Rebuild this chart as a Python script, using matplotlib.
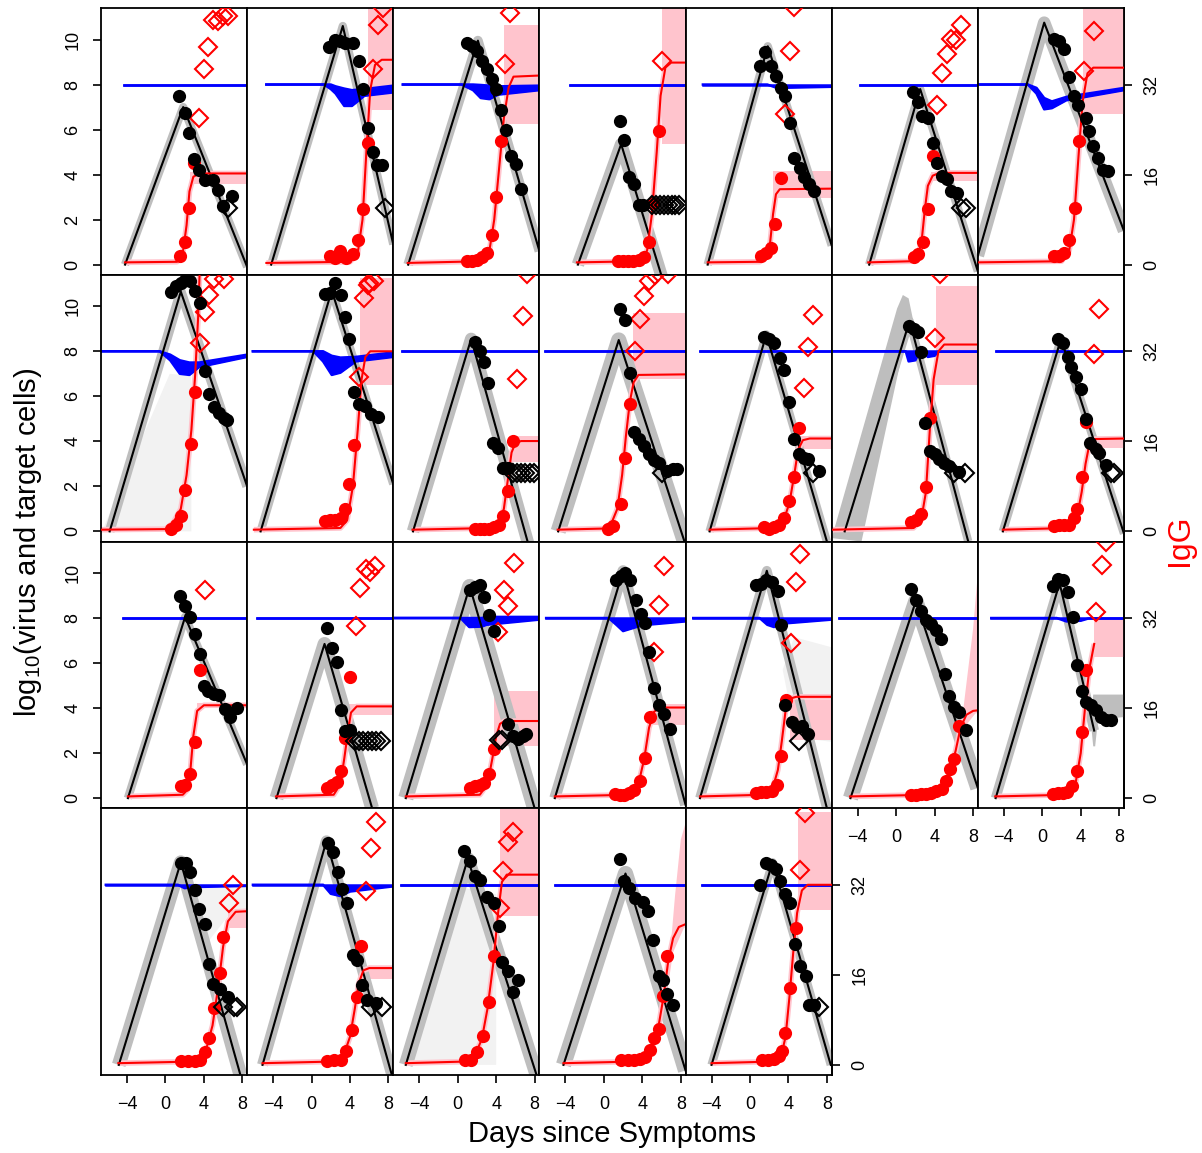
import matplotlib
matplotlib.use("Agg")
import matplotlib.pyplot as plt
import matplotlib.transforms as mtransforms

plt.rcParams['font.family'] = ['Liberation Sans', 'DejaVu Sans']
plt.rcParams['mathtext.default'] = 'regular'

# 26 patients, panels filled row by row (7 per row)

# best-fit viral load curve, (day, log10) vertices
vl_fit = [
    [(-4.2, 0), (1.85, 7.0), (8.5, -0.1)],
    [(-4.2, 0), (3.25, 10.6), (8.5, 0.9)],
    [(-5.15, 0), (2.1, 9.95), (8.5, 0.6)],
    [(-2.7, 0), (1.8, 5.35), (6.0, -0.5)],
    [(-4.4, 0), (1.85, 9.7), (8.5, 0.85)],
    [(-2.8, 0), (2.5, 7.8), (8.5, -0.3)],
    [(-6.7, 0.4), (0.2, 10.75), (8.5, 1.5)],
    [(-5.8, 0), (1.6, 10.65), (8.5, 2.0)],
    [(-5.3, 0), (2.1, 10.7), (8.5, 2.1)],
    [(-4.65, 0), (1.4, 8.55), (7.3, -0.5)],
    [(-4.75, 0), (1.55, 8.5), (8.5, -0.6)],
    [(-4.2, 0), (1.7, 8.75), (8.0, -0.45)],
    [(-5.35, 0), (1.4, 9.35), (7.5, -0.45)],
    [(-4.1, 0), (1.95, 8.55), (8.5, -0.1)],
    [(-3.9, 0), (2.05, 8.05), (8.5, 1.5)],
    [(-3.65, 0), (1.35, 6.85), (6.3, -0.45)],
    [(-5.4, 0), (1.25, 9.4), (8.0, -0.45)],
    [(-5.1, 0), (2.0, 10.1), (8.5, -0.3)],
    [(-5.2, 0), (1.75, 10.1), (8.0, -0.45)],
    [(-4.75, 0), (2.05, 8.75), (8.5, 0.45)],
    [(-4.85, 0), (1.8, 9.55), (5.4, 3.0)],
    [(-4.85, 0), (1.6, 9.0), (7.8, -0.45)],
    [(-5.1, 0), (1.55, 9.95), (8.35, -0.45)],
    [(-5.4, 0), (1.05, 9.15), (8.2, -0.45)],
    [(-4.2, 0), (2.25, 8.5), (8.5, -0.25)],
    [(-4.0, 0), (2.35, 9.0), (8.4, 0)],
]

# measured viral load (filled black circles)
vl_t = [
    [1.41, 2.0, 2.44, 2.96, 3.48, 4.07, 4.93, 5.44, 5.96, 6.93],
    [1.80, 2.39, 2.91, 3.43, 4.28, 4.98, 5.32, 5.84, 6.35, 6.77, 7.32],
    [0.95, 1.51, 1.99, 2.54, 3.02, 3.58, 3.99, 4.51, 5.03, 5.54, 6.06, 6.58],
    [1.63, 2.14, 2.59, 3.18, 3.63, 4.11],
    [1.06, 1.60, 2.19, 2.71, 3.23, 3.67, 4.16, 4.60, 5.19, 5.64, 6.16, 6.67],
    [1.72, 2.31, 2.65, 3.34, 3.79, 4.30, 4.72, 5.27, 5.68, 6.31],
    [1.25, 1.77, 2.29, 2.80, 3.32, 3.74, 4.53, 4.87, 5.32, 5.80, 6.35, 6.84],
    [0.55, 1.07, 1.58, 2.0, 2.51, 3.03, 3.55, 4.07, 4.58, 5.10, 5.62, 6.06, 6.41],
    [1.36, 1.87, 2.46, 3.01, 3.50, 3.94, 4.46, 4.98, 5.56, 6.18, 6.94],
    [1.75, 2.27, 2.71, 3.20, 3.64, 4.16, 4.68, 5.19],
    [1.70, 2.25, 2.73, 3.18, 3.69, 4.21, 4.73, 5.25, 5.76, 6.62, 7.21, 7.66],
    [1.50, 2.02, 2.54, 3.12, 3.57, 4.09, 4.60, 5.12, 5.64, 6.08, 7.19],
    [1.38, 1.90, 2.24, 2.59, 3.03, 3.52, 4.07, 4.48, 5.0, 5.52, 6.55],
    [1.6, 2.11, 2.63, 2.98, 3.5, 4.01, 4.53, 4.95, 5.57, 5.91, 6.60],
    [1.55, 2.07, 2.59, 3.03, 3.55, 4.0, 4.48, 5.03, 5.62, 6.21, 6.76, 7.45],
    [1.64, 2.11, 2.67, 3.08, 3.5, 4.04],
    [1.23, 1.75, 2.27, 2.78, 3.30, 3.75, 5.19, 5.71, 6.23, 6.74, 7.1],
    [1.28, 1.8, 2.25, 2.73, 3.35, 3.87, 4.31, 4.73, 5.25, 5.76, 6.28, 6.87],
    [0.64, 1.16, 1.68, 2.30, 2.88, 3.23, 3.67, 4.37, 4.84, 5.40, 6.08],
    [1.55, 2.07, 2.58, 3.1, 3.62, 4.14, 4.66, 5.1, 5.51, 6.03, 6.55, 7.24],
    [1.08, 1.6, 2.11, 2.63, 3.15, 3.66, 4.12, 4.59, 5.05, 5.57, 6.08, 6.66, 7.12],
    [1.59, 2.18, 2.59, 3.07, 3.48, 4.07, 4.56, 4.96, 5.65, 6.54],
    [1.71, 2.2, 2.7, 3.2, 3.68, 4.28, 4.68, 5.28, 5.76, 6.75],
    [0.63, 1.28, 1.78, 2.27, 3.01, 3.76, 4.25, 4.59, 5.23, 5.73, 6.25],
    [1.65, 2.13, 2.63, 3.22, 4.1, 4.61, 5.11, 5.7, 6.2, 6.59, 7.18],
    [1.07, 1.71, 2.16, 2.66, 3.16, 3.69, 4.19, 4.68, 5.17, 5.81, 6.17, 6.66],
]
vl_v = [
    [7.48, 6.74, 5.85, 4.67, 4.22, 3.78, 3.78, 3.3, 2.59, 3.07],
    [9.67, 9.97, 9.93, 9.85, 9.85, 9.04, 7.8, 6.07, 5.0, 4.44, 4.44],
    [9.85, 9.7, 9.48, 9.04, 8.67, 8.25, 7.78, 6.86, 5.97, 4.81, 4.49, 3.36],
    [6.37, 5.53, 3.9, 3.56, 2.67, 2.67],
    [8.81, 9.44, 8.81, 8.4, 7.85, 7.48, 6.27, 4.74, 4.3, 3.9, 3.56, 3.26],
    [7.66, 7.21, 6.62, 6.52, 5.41, 4.52, 3.92, 3.81, 3.26, 3.19],
    [10.03, 9.93, 9.56, 8.34, 7.48, 7.07, 6.52, 5.93, 5.26, 4.74, 4.22, 4.15],
    [10.64, 10.9, 11.02, 11.17, 11.12, 10.68, 10.13, 7.12, 6.09, 5.54, 5.24, 5.05, 4.95],
    [10.53, 10.58, 11.05, 10.49, 9.54, 8.56, 6.19, 5.64, 5.57, 5.2, 5.1],
    [8.41, 8.01, 7.52, 6.58, 3.94, 3.72, 2.83, 2.83],
    [9.87, 9.39, 7.02, 4.41, 4.09, 3.79, 3.42, 3.17, 3.05, 2.68, 2.76, 2.76],
    [8.65, 8.56, 8.36, 7.72, 7.17, 5.75, 4.12, 3.42, 3.27, 3.2, 2.68],
    [9.12, 9.01, 8.86, 7.97, 4.8, 3.57, 3.42, 3.23, 3.05, 2.9, 2.64],
    [8.53, 8.39, 7.76, 7.32, 6.87, 6.31, 5.01, 3.94, 3.64, 3.47, 2.93],
    [8.96, 8.52, 8.04, 7.3, 6.41, 4.96, 4.76, 4.61, 4.56, 3.97, 3.6, 4.01],
    [7.57, 6.68, 6.04, 3.9, 2.98, 3.04],
    [9.26, 9.38, 9.45, 8.93, 8.12, 7.42, 3.3, 2.74, 2.64, 2.74, 2.83],
    [9.7, 9.85, 10.0, 9.67, 8.81, 8.16, 7.78, 6.49, 4.9, 4.12, 3.72, 3.08],
    [9.45, 9.53, 9.70, 9.6, 9.2, 7.67, 4.12, 3.38, 3.16, 3.19, 2.86],
    [9.3, 8.79, 8.31, 7.93, 7.72, 7.45, 7.08, 5.5, 4.52, 4.04, 3.82, 3.04],
    [9.41, 9.75, 9.7, 9.16, 8.04, 5.9, 4.76, 4.27, 4.12, 3.9, 3.6, 3.48, 3.45],
    [8.95, 8.98, 8.56, 7.79, 6.93, 6.28, 4.5, 3.61, 3.38, 3.02],
    [9.87, 9.45, 8.56, 7.82, 7.17, 4.9, 4.65, 3.57, 2.9, 2.76],
    [9.5, 9.05, 8.41, 8.21, 7.47, 7.2, 6.16, 4.56, 4.16, 3.23, 3.76],
    [9.16, 8.16, 7.87, 7.42, 7.23, 6.83, 5.54, 3.97, 3.76, 3.17, 2.68],
    [8.01, 8.98, 8.9, 8.68, 8.16, 7.57, 7.2, 5.35, 4.39, 3.97, 2.64, 2.64],
]

# viral load below detection (open black diamonds)
vl_lod_t = [
    [6.48], [7.67], [], [5.05, 5.45, 5.85, 6.25, 6.65, 7.05, 7.45, 7.85], [],
    [6.79, 7.24], [], [], [], [5.7, 6.15, 6.6, 7.05, 7.5, 7.95], [6.1], [6.57],
    [6.03, 7.17], [7.12, 7.46], [], [4.5, 4.95, 5.4, 5.85, 6.3, 6.75, 7.2],
    [4.3, 4.6], [], [5.12], [], [], [6.04, 7.14, 7.43], [6.17, 7.34], [], [],
    [7.15],
]
vl_lod_v = [
    [2.52], [2.52], [], [2.64] * 8, [], [2.52, 2.52], [], [], [], [2.58] * 6,
    [2.61], [2.58], [2.58, 2.58], [2.58, 2.58], [], [2.53] * 7, [2.56, 2.56],
    [], [2.53], [], [], [2.58] * 3, [2.58, 2.58], [], [], [2.58],
]

# measured IgG (filled red circles)
igg_t = [
    [1.48, 2.0, 2.44, 2.93],
    [1.87, 2.39, 2.91, 3.60, 4.28, 4.80, 5.32, 5.84],
    [0.95, 1.51, 1.99, 2.54, 3.02, 3.58, 3.99, 4.51],
    [1.45, 1.97, 2.49, 3.0, 3.62, 4.21, 4.66, 5.07, 5.69],
    [1.16, 1.68, 2.19, 2.64, 3.23],
    [1.82, 2.24, 2.75, 3.27, 3.79],
    [1.25, 1.77, 2.29, 2.80, 3.39, 3.84],
    [0.55, 1.07, 1.58, 2.07, 2.62, 3.03],
    [1.36, 1.87, 2.39, 3.01, 3.50, 3.94, 4.46],
    [1.75, 2.27, 2.78, 3.30, 3.82, 4.33, 4.68, 5.19, 5.71],
    [0.4, 0.93, 1.80, 2.25, 2.73],
    [1.50, 2.02, 2.54, 3.05, 3.57, 4.09, 4.60, 5.12],
    [1.55, 2.07, 2.59, 3.12, 3.52],
    [1.25, 1.77, 2.29, 2.80, 3.32, 3.66, 4.12, 4.59],
    [1.58, 2.07, 2.59, 3.03, 3.55],
    [1.64, 2.11, 2.67, 3.08, 3.5, 4.04],
    [1.23, 1.75, 2.27, 2.78, 3.30, 3.75],
    [1.11, 1.63, 2.14, 2.66, 3.18, 3.77, 4.31, 4.80],
    [0.64, 1.16, 1.68, 2.30, 2.78, 3.23, 3.75],
    [1.55, 2.07, 2.58, 3.1, 3.62, 4.14, 4.76, 5.17, 5.59, 6.03, 6.55],
    [1.08, 1.6, 2.11, 2.52, 3.08, 3.66, 4.12, 4.59],
    [1.59, 2.34, 3.07, 3.57, 4.07, 4.56, 5.06, 5.65, 6.04],
    [1.56, 2.31, 3.04, 3.54, 4.18, 4.68, 5.17],
    [0.79, 1.43, 2.02, 2.64, 3.26, 3.76],
    [1.74, 2.48, 3.13, 3.72, 4.31, 4.81, 5.2, 5.7, 6.2, 6.59],
    [1.21, 1.86, 2.45, 3.04, 3.34, 3.69, 4.19, 4.83],
]
igg_v = [
    [1.6, 4.0, 10.1, 18.0],
    [1.5, 1.2, 2.5, 1.2, 1.8, 4.4, 9.9, 21.6],
    [0.6, 0.6, 0.9, 1.4, 2.0, 5.2, 12.0, 21.9],
    [0.6, 0.6, 0.6, 0.6, 0.9, 1.4, 4.0, 11.0, 23.7],
    [1.6, 2.1, 3.0, 7.3, 15.4],
    [1.4, 1.8, 4.0, 9.9, 19.3],
    [1.6, 1.5, 2.1, 4.4, 10.1, 21.9],
    [0.4, 1.2, 2.7, 7.3, 15.5, 24.7],
    [1.8, 2.0, 2.1, 2.4, 3.9, 8.5, 15.3],
    [0.5, 0.5, 0.5, 0.5, 0.7, 1.2, 2.7, 7.2, 16.1],
    [0.5, 0.9, 4.8, 13.1, 22.6],
    [0.7, 0.5, 0.8, 1.1, 2.3, 5.4, 9.7, 18.3],
    [1.7, 2.0, 3.0, 7.8, 20.2],
    [0.9, 1.1, 1.1, 1.2, 2.3, 4.0, 9.7, 19.4],
    [2.1, 2.4, 4.2, 10.0, 22.8],
    [1.8, 2.3, 2.8, 4.8, 10.7, 21.6],
    [1.8, 2.1, 2.4, 2.7, 4.2, 8.8],
    [0.8, 0.5, 0.5, 0.9, 1.5, 3.0, 7.2, 14.5],
    [0.9, 1.1, 1.1, 1.2, 2.4, 7.4, 17.5],
    [0.5, 0.5, 0.7, 0.7, 0.9, 1.2, 1.7, 3.1, 5.2, 7.0, 12.9],
    [0.8, 0.9, 0.9, 1.1, 2.1, 4.8, 11.7, 22.8],
    [0.7, 0.7, 0.7, 0.8, 2.3, 4.8, 10.1, 16.4, 22.8],
    [0.7, 0.8, 0.9, 2.4, 6.2, 12.1, 21.2],
    [0.8, 0.9, 2.3, 5.2, 11.1, 19.4],
    [0.8, 0.8, 0.8, 1.1, 1.4, 2.6, 4.8, 6.4, 12.3, 19.3],
    [0.8, 0.8, 1.1, 1.5, 2.4, 5.7, 13.7, 24.4],
]

# IgG above upper limit (open red diamonds)
igg_hi_t = [
    [3.48, 3.99, 4.48, 4.93, 5.44, 5.96, 6.48],
    [6.35, 6.87, 7.39],
    [4.96, 5.44],
    [6.1],
    [3.67, 4.16, 4.6],
    [4.30, 4.72, 5.24, 5.75, 6.2, 6.79],
    [4.36, 5.39],
    [3.55, 4.07, 4.58, 5.10, 6.13],
    [4.9, 5.42, 5.85, 6.01, 6.46],
    [6.17, 6.75, 7.2],
    [3.28, 3.77, 4.21, 4.73, 5.35, 6.72],
    [5.64, 6.08, 6.57],
    [4.07, 4.55],
    [5.38, 5.86],
    [4.07],
    [4.63, 5.08, 5.67, 6.11, 6.6],
    [4.23, 4.78, 5.27, 5.82],
    [5.25, 5.76, 6.28],
    [4.26, 4.78, 5.19],
    [],
    [5.63, 6.18, 6.66],
    [6.64, 7.03],
    [5.67, 6.17, 6.75],
    [4.4, 4.74, 5.23, 5.73],
    [],
    [5.17, 5.67],
]
igg_hi_v = [
    [26.1, 34.7, 38.7, 43.4, 43.3, 44.1, 44.1],
    [34.7, 42.5, 45.6],
    [35.6, 44.7],
    [36.2],
    [26.8, 37.9, 45.8],
    [28.4, 34.1, 37.5, 40.1, 39.9, 42.5],
    [34.4, 41.5],
    [33.4, 39.0, 42.0, 44.9, 44.9],
    [27.5, 41.4, 43.8, 44.2, 44.5],
    [27.1, 38.3, 45.7],
    [32.0, 37.8, 41.8, 44.5, 45.5, 45.8],
    [25.5, 32.8, 38.4],
    [34.4, 45.7],
    [31.5, 39.6],
    [36.9],
    [30.5, 37.4, 40.8, 40.2, 41.2],
    [29.5, 36.9, 34.1, 41.8],
    [26.0, 34.4, 41.2],
    [27.6, 38.4, 43.3],
    [],
    [33.1, 41.5, 45.5],
    [28.8, 31.9],
    [30.9, 38.6, 43.1],
    [27.9, 34.4, 39.6, 41.4],
    [],
    [34.6, 44.7],
]

# best-fit IgG curve, (day, IgG) vertices
igg_fit = [
    [(-4.2, 0.4), (1.2, 0.5), (1.8, 2), (2.2, 7), (2.5, 13), (2.9, 15.6), (3.5, 16.2), (8.5, 16.2)],
    [(-4.7, 0.3), (4.0, 0.5), (4.8, 2), (5.3, 8), (5.7, 20), (6.1, 31), (6.6, 35.5), (7.3, 36.4), (8.5, 36.4)],
    [(-5.2, 0.3), (2.5, 0.6), (3.3, 2.5), (3.8, 8), (4.3, 17), (4.8, 26), (5.3, 31.5), (5.8, 33.4), (8.5, 33.6)],
    [(-2.8, 0.4), (3.8, 0.6), (4.5, 2.5), (5.0, 9), (5.5, 20), (5.9, 30), (6.4, 35), (7.0, 35.9), (8.5, 35.9)],
    [(-4.4, 0.4), (1.0, 0.5), (1.7, 1.5), (2.1, 4), (2.4, 9), (2.7, 12.5), (3.1, 13.4), (8.5, 13.5)],
    [(-2.9, 0.4), (1.6, 0.6), (2.3, 1.5), (2.7, 5), (3.0, 10), (3.3, 14), (3.8, 15.8), (4.5, 16.3), (8.5, 16.3)],
    [(-6.7, 0.4), (2.0, 0.6), (2.8, 2.5), (3.3, 8), (3.8, 20), (4.2, 29), (4.7, 34), (5.3, 35), (8.5, 35)],
    [(-6.7, 0.3), (0.0, 0.4), (0.8, 1.5), (1.6, 4), (2.2, 10), (2.7, 18), (3.1, 28), (3.4, 38), (3.6, 48)],
    [(-6.0, 0.3), (3.0, 0.6), (3.7, 2), (4.3, 8), (4.8, 18), (5.2, 27), (5.6, 31), (6.1, 32), (8.5, 32)],
    [(-4.7, 0.3), (3.5, 0.6), (4.3, 1.5), (4.8, 4), (5.2, 9), (5.6, 14), (6.0, 15.7), (6.6, 16.05), (8.5, 16.05)],
    [(-4.8, 0.3), (0.0, 0.5), (0.8, 1.5), (1.4, 4), (1.9, 10), (2.3, 17), (2.7, 23), (3.1, 26.5), (3.6, 27.8), (8.5, 27.9)],
    [(-4.2, 0.3), (2.5, 0.6), (3.5, 2), (4.1, 5), (4.6, 10), (5.0, 14.5), (5.5, 16.2), (6.2, 16.5), (8.5, 16.5)],
    [(-6.6, 0.3), (1.8, 0.6), (2.6, 2), (3.1, 7), (3.5, 18), (3.9, 27), (4.4, 32), (5.0, 33.2), (8.5, 33.2)],
    [(-4.1, 0.3), (2.8, 0.6), (3.6, 2.5), (4.1, 7), (4.5, 12), (4.9, 15.5), (5.4, 16.4), (8.5, 16.5)],
    [(-3.9, 0.3), (1.8, 0.6), (2.3, 1.5), (2.6, 5), (2.9, 11), (3.3, 15.5), (4.0, 16.5), (8.5, 16.5)],
    [(-3.7, 0.3), (2.3, 0.6), (3.0, 2.5), (3.4, 7), (3.8, 12), (4.1, 15.2), (4.7, 16.3), (8.5, 16.3)],
    [(-5.4, 0.3), (2.3, 0.6), (3.1, 2.5), (3.6, 7), (4.0, 11), (4.4, 13.2), (4.9, 13.7), (8.5, 13.7)],
    [(-5.1, 0.3), (2.8, 0.6), (3.6, 2.5), (4.2, 7), (4.7, 12.5), (5.2, 15.3), (5.8, 16.1), (8.5, 16.1)],
    [(-5.2, 0.3), (1.5, 0.6), (2.4, 2), (2.9, 5), (3.3, 10), (3.7, 15.5), (4.2, 17.7), (4.8, 18), (8.5, 18)],
    [(-4.8, 0.3), (3.5, 0.6), (4.8, 1.8), (5.6, 4.5), (6.2, 8.5), (6.7, 12.5), (7.3, 14.8), (8.0, 15.5), (8.5, 15.6)],
    [(-4.9, 0.3), (2.8, 0.6), (3.5, 3), (4.0, 8), (4.5, 17), (4.9, 23), (5.4, 27.4)],
    [(-4.9, 0.3), (3.2, 0.6), (4.2, 2.5), (4.9, 7), (5.5, 14), (6.0, 21), (6.5, 25.5), (7.3, 27.2), (8.5, 27.3)],
    [(-5.1, 0.3), (2.5, 0.6), (3.4, 2), (4.0, 5), (4.5, 10), (4.9, 14.5), (5.4, 16.8), (6.0, 17.2), (8.5, 17.2)],
    [(-5.4, 0.3), (1.0, 0.6), (1.8, 1.8), (2.5, 4.5), (3.1, 10), (3.7, 18), (4.2, 27), (4.6, 32.5), (5.1, 33.8), (8.5, 33.8)],
    [(-4.2, 0.3), (3.5, 0.6), (4.4, 1.5), (5.0, 3), (5.6, 6), (6.2, 12), (6.7, 18.5), (7.2, 22.5), (7.8, 24.5), (8.5, 25)],
    [(-4.0, 0.3), (2.6, 0.6), (3.3, 2), (3.7, 5), (4.1, 12), (4.5, 20), (4.9, 27), (5.4, 31), (6.0, 32), (8.5, 32)],
]

# spread of IgG ensemble plateaus, (day, IgG) outline
igg_spread = [
    [(2.6, 14.4), (2.6, 16.5), (8.5, 16.5), (8.5, 14.4)],
    [(5.9, 27.5), (5.9, 47), (8.5, 47), (8.5, 27.5)],
    [(4.8, 25), (4.8, 42.5), (8.5, 42.5), (8.5, 25)],
    [(6.0, 21.5), (6.0, 47), (8.5, 47), (8.5, 21.5)],
    [(2.4, 11.9), (2.4, 16.6), (8.5, 16.6), (8.5, 11.9)],
    [(3.6, 14.8), (3.6, 16.5), (8.5, 16.5), (8.5, 14.8)],
    [(4.2, 26.8), (4.2, 45.5), (8.5, 45.5), (8.5, 26.8)],
    [],
    [(5.0, 26), (5.0, 45), (8.5, 45), (8.5, 26)],
    [(5.5, 12.4), (5.5, 16.9), (8.5, 16.9), (8.5, 12.4)],
    [(3.0, 27), (3.0, 38.8), (8.5, 38.8), (8.5, 27)],
    [(5.0, 14.6), (5.0, 17), (8.5, 17), (8.5, 14.6)],
    [(4.1, 26), (4.1, 43.6), (8.5, 43.6), (8.5, 26)],
    [(5.0, 14.8), (5.0, 16.8), (8.5, 16.8), (8.5, 14.8)],
    [(3.3, 16.0), (3.3, 16.9), (8.5, 16.9), (8.5, 16.0)],
    [(3.6, 14.8), (3.6, 16.8), (8.5, 16.8), (8.5, 14.8)],
    [(3.8, 9.3), (3.8, 19.1), (8.5, 19.1), (8.5, 9.3)],
    [(5.1, 13.0), (5.1, 16.8), (8.5, 16.8), (8.5, 13.0)],
    [(4.2, 10.4), (4.2, 17.5), (8.5, 17.5), (8.5, 10.4)],
    [(6.0, 7), (7.0, 16), (8.0, 30), (8.5, 40), (8.5, 15.6), (7.3, 13), (6.5, 9)],
    [(5.4, 25), (5.4, 32), (8.5, 32), (8.5, 25)],
    [(6.5, 24.4), (6.5, 27.5), (8.5, 27.5), (8.5, 24.4)],
    [(5.0, 15.3), (5.0, 17.6), (8.5, 17.6), (8.5, 15.3)],
    [(4.4, 26.5), (4.4, 47), (8.5, 47), (8.5, 26.5)],
    [(6.0, 8), (6.8, 18), (7.4, 30), (8.0, 40), (8.5, 43), (8.5, 25), (7.2, 20), (6.5, 12)],
    [(5.0, 27.5), (5.0, 45), (8.5, 45), (8.5, 27.5)],
]

# target cells: (day, lower, upper) of the ensemble band
tc_band = [
    [(-4.3, 8, 8), (8.5, 8, 8)],
    [(-4.7, 8, 8), (1.3, 8, 8), (2.0, 7.8, 8), (2.5, 7.6, 7.92), (3.4, 7.05, 7.82), (4.2, 7.05, 7.75), (5.5, 7.5, 7.8), (8.5, 7.65, 7.95)],
    [(-5.7, 8, 8), (0.4, 8, 8), (1.6, 7.75, 8), (2.4, 7.4, 7.98), (3.3, 7.35, 7.95), (4.2, 7.55, 7.92), (8.5, 7.75, 7.95)],
    [(-3.55, 8, 8), (8.5, 8, 8)],
    [(-4.9, 8, 8), (1.8, 8, 8), (2.8, 7.85, 8), (8.5, 7.9, 8)],
    [(-3.8, 8, 8), (8.5, 8, 8)],
    [(-6.7, 8, 8), (-1.5, 8, 8), (-0.6, 7.6, 7.85), (0.2, 6.9, 7.4), (1.0, 6.95, 7.25), (2.5, 7.3, 7.45), (8.5, 7.75, 7.85)],
    [(-6.7, 8, 8), (-0.6, 8, 8), (0.5, 7.6, 7.85), (1.5, 7.0, 7.6), (2.5, 6.95, 7.5), (3.5, 7.3, 7.5), (8.5, 7.75, 7.85)],
    [(-6.1, 8, 8), (0.2, 8, 8), (1.2, 7.55, 8), (2.1, 6.95, 7.8), (3.0, 7.05, 7.72), (4.6, 7.55, 7.75), (8.5, 7.75, 7.95)],
    [(-5.8, 8, 8), (8.5, 8, 8)],
    [(-6.1, 8, 8), (8.5, 8, 8)],
    [(-5.2, 8, 8), (8.5, 8, 8)],
    [(-6.6, 8, 8), (1.0, 8, 8), (1.3, 7.55, 8), (2.0, 7.6, 8), (2.4, 7.95, 8), (2.9, 7.95, 8), (3.3, 7.75, 8), (4.0, 7.8, 8), (4.4, 7.98, 8), (8.5, 7.98, 8)],
    [(-4.8, 8, 8), (8.5, 8, 8)],
    [(-4.4, 8, 8), (8.5, 8, 8)],
    [(-5.7, 8, 8), (8.5, 8, 8)],
    [(-6.5, 8, 8), (0.3, 8, 8), (1.2, 7.6, 8), (2.5, 7.62, 8), (3.0, 7.7, 8.05), (8.5, 7.93, 8.05)],
    [(-6.0, 8, 8), (0.5, 8, 8), (1.3, 7.7, 8), (2.0, 7.42, 8), (3.0, 7.55, 8), (4.0, 7.68, 8), (8.5, 7.85, 8)],
    [(-5.9, 8, 8), (1.0, 8, 8), (1.8, 7.7, 8), (2.5, 7.6, 8), (3.3, 7.75, 8), (8.5, 7.93, 8)],
    [(-5.9, 8, 8), (8.5, 8, 8)],
    [(-5.3, 8, 8), (1.5, 8, 8), (2.5, 7.85, 8), (4.0, 7.88, 8), (4.8, 7.98, 8), (8.5, 7.98, 8)],
    [(-6.2, 8, 8), (1.3, 8, 8), (2.0, 7.85, 8), (3.0, 7.9, 8), (8.5, 7.95, 8)],
    [(-6.1, 8, 8), (1.2, 8, 8), (2.0, 7.6, 8), (3.0, 7.5, 8), (4.0, 7.7, 8), (8.5, 7.93, 8)],
    [(-5.9, 8, 8), (8.5, 8, 8)],
    [(-5.1, 8, 8), (8.5, 8, 8)],
    [(-5.0, 8, 8), (8.5, 8, 8)],
]

# faint ensemble runs (very light grey areas)
vl_faint = {
    7: [(-6.6, 0), (0.45, 7.0), (2.7, 6.9), (2.7, 0)],
    18: [(3.4, 5.7), (4.6, 7.15), (8.5, 6.7), (8.5, 2.5), (4.8, 2.7)],
    21: [(3.0, 7.9), (8.5, 7.9), (8.5, 6.4), (6.5, 6.6), (4.5, 5.5), (3.8, 6.5)],
    23: [(-5.15, 0), (0.54, 7.87), (4.0, 7.58), (4.0, 0)],
}
# ensemble outline where the grey band is lopsided
vl_tail = {
    12: [(-6.7, -0.3), (0.1, 9.9), (0.7, 10.5), (1.3, 10.35), (2.0, 8.9), (7.7, -0.45),
         (7.2, -0.45), (1.6, 8.7), (1.0, 8.6), (-3.6, -0.45)],
    20: [(5.0, 3.6), (5.3, 4.6), (8.5, 4.6), (8.5, 3.6), (5.8, 3.5), (5.5, 2.3), (5.3, 2.3)],
}

# width (pt) of the grey viral-load ensemble band
band_lw = [6, 6, 7, 9, 6, 6, 9, 7, 6, 9, 11, 6, 6, 6, 6, 10, 11, 8, 7, 11, 7, 10, 8, 10, 11, 6]

W, H = 1202.0, 1153.0
X0, Y0 = 101.0, 8.0
PW, PH = 1023.0 / 7, 1067.0 / 4
GREY = '#bebebe'
PINK = '#ffc4cd'

fig = plt.figure(figsize=(W / 100, H / 100), dpi=100)

for k in range(26):
    r, c = divmod(k, 7)
    ax = fig.add_axes([(X0 + c * PW) / W, 1 - (Y0 + (r + 1) * PH) / H, PW / W, PH / H])
    ax.set_xlim(-6.7, 8.5)
    ax.set_ylim(-0.45, 11.4)
    tr_igg = mtransforms.Affine2D().scale(1, 0.25) + ax.transData

    if k in vl_faint:
        ax.fill(*zip(*vl_faint[k]), color='#f2f2f2', lw=0, zorder=1)
    if igg_spread[k]:
        ax.fill(*zip(*igg_spread[k]), color=PINK, lw=0, zorder=1.5, transform=tr_igg)

    ft, fv = zip(*vl_fit[k])
    ax.plot(ft, fv, color=GREY, lw=band_lw[k], zorder=2,
            solid_joinstyle='round', solid_capstyle='butt')
    if k in vl_tail:
        ax.fill(*zip(*vl_tail[k]), color=GREY, lw=0, zorder=2)

    gt, gv = zip(*igg_fit[k])
    ax.plot(gt, gv, color=PINK, lw=4, zorder=2.2, transform=tr_igg,
            solid_capstyle='butt')

    bt, blo, bhi = zip(*tc_band[k])
    ax.fill_between(bt, blo, bhi, color='blue', lw=0, zorder=2.5)
    ax.plot(bt, blo, color='blue', lw=1.8, zorder=2.5)
    ax.plot(bt, bhi, color='blue', lw=1.8, zorder=2.5)

    ax.plot(ft, fv, color='black', lw=1.5, zorder=3)
    ax.plot(gt, gv, color='red', lw=1.5, zorder=3.2, transform=tr_igg)

    ax.plot(igg_t[k], igg_v[k], 'o', color='red', ms=9.5, mew=0, zorder=4, transform=tr_igg)
    ax.plot(igg_hi_t[k], igg_hi_v[k], 'D', mfc='none', mec='red', ms=9, mew=1.5,
            zorder=4, transform=tr_igg)
    ax.plot(vl_t[k], vl_v[k], 'o', color='black', ms=9.5, mew=0, zorder=5)
    ax.plot(vl_lod_t[k], vl_lod_v[k], 'D', mfc='none', mec='black', ms=9, mew=1.5, zorder=5)

    for s in ax.spines.values():
        s.set_linewidth(1.3)

    ax.tick_params(direction='out', length=6, width=1.2, labelsize=13)
    bottom = (r == 3) or (r == 2 and c >= 5)
    if bottom:
        ax.set_xticks([-4, 0, 4, 8])
        ax.tick_params(axis='x', pad=9)
    else:
        ax.set_xticks([])
    if c == 0 and r < 3:
        ax.set_yticks([0, 2, 4, 6, 8, 10])
        ax.tick_params(axis='y', labelrotation=90, pad=8)
        for lab in ax.get_yticklabels():
            lab.set_va('center')
    else:
        ax.set_yticks([])
    if (c == 6 and r < 3) or (r == 3 and c == 4):
        sec = ax.secondary_yaxis('right', functions=(lambda v: v * 4, lambda g: g / 4))
        sec.set_yticks([0, 16, 32])
        sec.spines['right'].set_linewidth(1.3)
        sec.tick_params(direction='out', length=6, width=1.2, labelsize=13,
                        labelrotation=90, pad=8)
        for lab in sec.get_yticklabels():
            lab.set_va('center')

fig.text(28 / W, 1 - 542 / H, r'log$_{10}$(virus and target cells)', rotation=90,
         fontsize=21, ha='center', va='center')
fig.text(1180 / W, 1 - 540 / H, 'IgG', rotation=90, color='red',
         fontsize=23, ha='center', va='center')
fig.text(612 / W, 1 - 1134 / H, 'Days since Symptoms', fontsize=21,
         ha='center', va='center')

fig.savefig('out.png', dpi=100)
